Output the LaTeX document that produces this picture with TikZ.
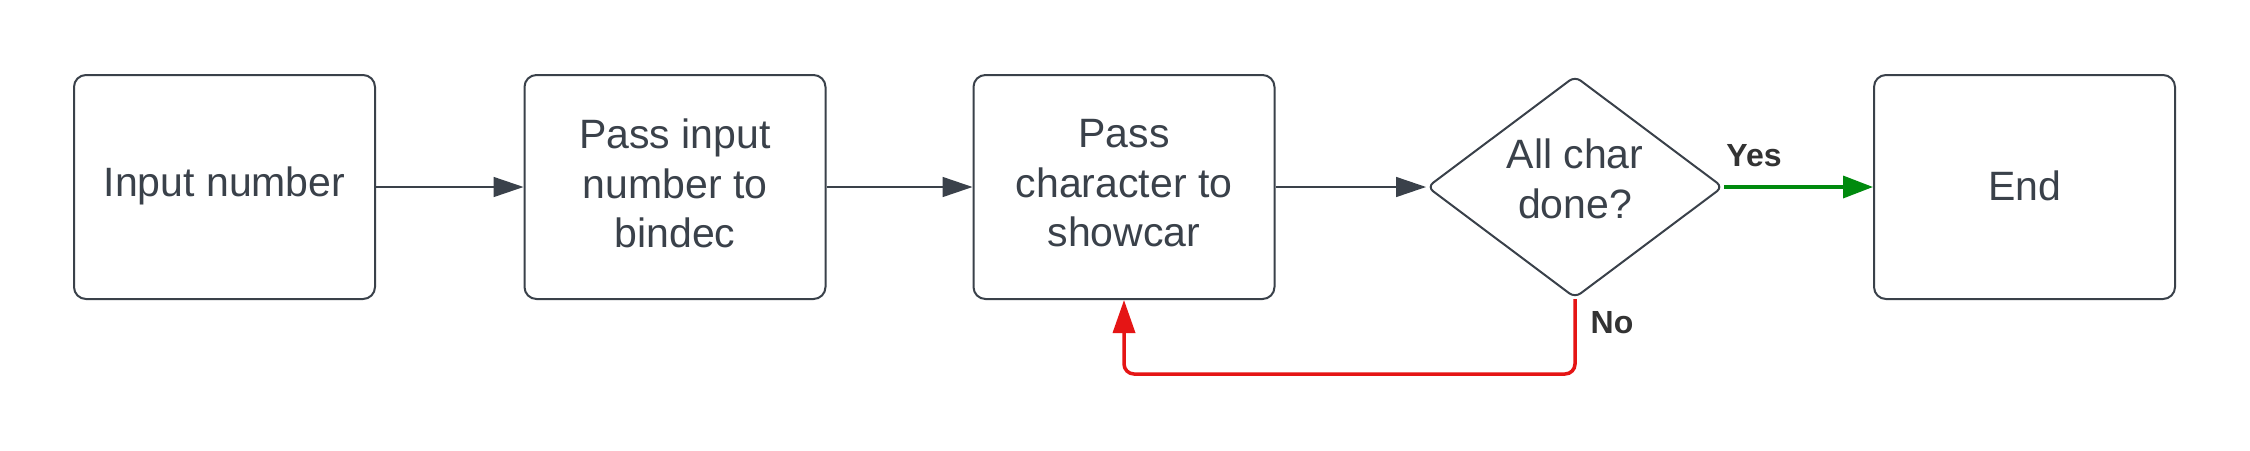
\documentclass[tikz,border=0pt]{standalone}
\usepackage{fontspec}
\setmainfont{Liberation Sans}
\usetikzlibrary{shapes.geometric,arrows.meta}
\definecolor{ink}{HTML}{3A414A}
\definecolor{yesgreen}{HTML}{008A0E}
\definecolor{nored}{HTML}{E51515}
\definecolor{lblink}{HTML}{333333}
\begin{document}
\begin{tikzpicture}[x=1pt,y=-1pt,
  boxtext/.style={text=ink, align=center, inner sep=0pt, font=\fontsize{41}{49.5}\selectfont},
  procbox/.style={draw=ink, line width=2pt, rounded corners=12pt, minimum width=301pt, minimum height=224pt, inner sep=0pt},
  decbox/.style={draw=ink, line width=2pt, shape=diamond, aspect=1.34, rounded corners=7pt, minimum width=296pt, minimum height=222pt, inner sep=0pt},
  flowarrow/.style={draw=ink, line width=1.5pt, -{Triangle[length=30pt,width=20pt]}},
  yesarrow/.style={draw=yesgreen, line width=3.5pt, -{Triangle[length=30pt,width=22pt]}},
  noarrow/.style={draw=nored, line width=3.5pt, rounded corners=10pt, -{Triangle[length=33pt,width=22pt]}},
  lbl/.style={text=lblink, font=\fontsize{32}{36}\selectfont\bfseries, inner sep=0pt}]
\useasboundingbox (0,0) rectangle (2250,450);
\fill[white] (0,0) rectangle (2250,450);
\node[procbox, label={[boxtext, yshift=1pt]center:Input number}] (inp) at (224.5,187) {};
\node[procbox, label={[boxtext, yshift=3.5pt]center:Pass input\\number to\\bindec}] (pass1) at (675,187) {};
\node[procbox, label={[boxtext, yshift=3.5pt]center:Pass\\character to\\showcar}] (pass2) at (1124,187) {};
\node[decbox, label={[boxtext, yshift=8pt]center:All char\\done?}] (dec) at (1575,187) {};
\node[procbox, label={[boxtext, yshift=1pt]center:End}] (fin) at (2024.5,187) {};
\draw[flowarrow] (inp.east) -- (pass1.west);
\draw[flowarrow] (pass1.east) -- (pass2.west);
\draw[flowarrow] (pass2.east) -- (dec.west);
\draw[yesarrow] (dec.east) -- (fin.west);
\coordinate (nocorner) at (1575,374);
\draw[noarrow] (dec.south) -- (nocorner) -| (pass2.south);
\node[lbl, anchor=center] (yeslbl) at (1754,156) {Yes};
\node[lbl, anchor=center] (nolbl) at (1612,323) {No};
\end{tikzpicture}
\end{document}
